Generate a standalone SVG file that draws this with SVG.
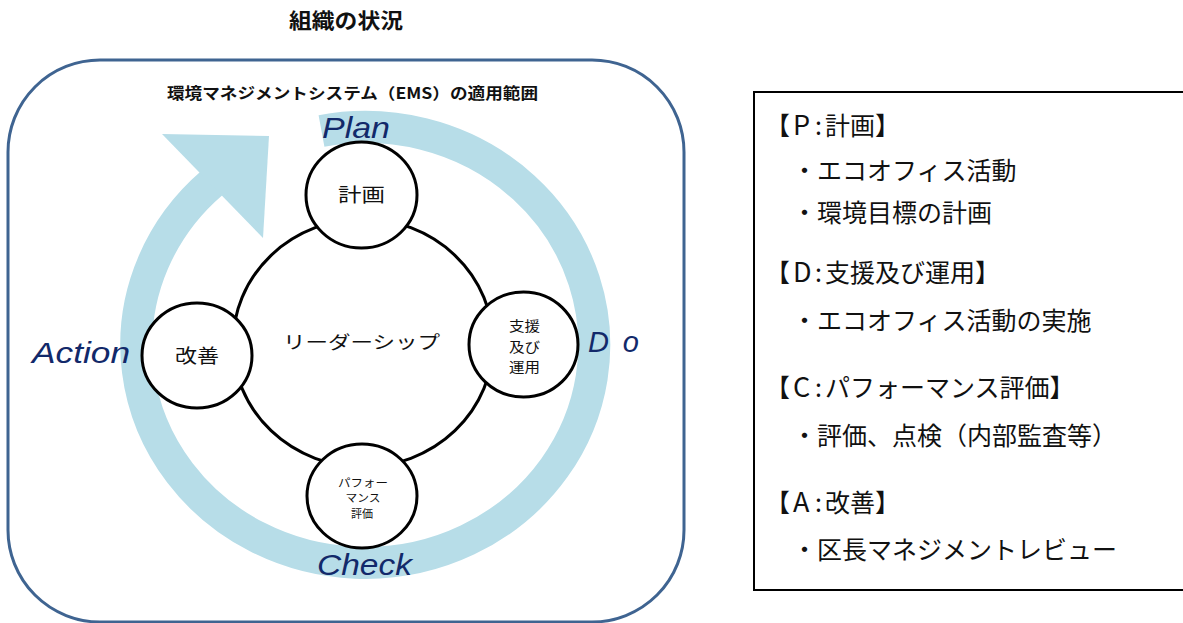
<svg xmlns="http://www.w3.org/2000/svg" width="1183" height="623" viewBox="0 0 1183 623">
<style>
.jp{font-family:"Noto Sans CJK JP","Noto Sans CJK SC",sans-serif;fill:#111}
.b{font-weight:bold}
.node{fill:#fff;stroke:#000;stroke-width:3}
.pdca{font-family:"Liberation Sans",Arial,sans-serif;font-style:italic;fill:#12296a;font-size:29px}
.panel{font-family:"Noto Sans CJK JP","Noto Sans CJK SC",sans-serif;font-size:25px;fill:#111}
.ltr{font-size:27px}
</style>
<rect width="1183" height="623" fill="#fff"/>
<g id="title">
<text class="jp b" x="346" y="28" font-size="21" text-anchor="middle" textLength="114" lengthAdjust="spacingAndGlyphs">組織の状況</text>
</g>
<g id="scope">
<rect x="8" y="60" width="676" height="562" rx="92" ry="92" fill="none" stroke="#3f6491" stroke-width="3"/>
<text class="jp b" x="352.5" y="99" font-size="15.5" text-anchor="middle" textLength="371" lengthAdjust="spacingAndGlyphs">環境マネジメントシステム（EMS）の適用範囲</text>
</g>
<g id="connectors">
<path d="M 321.5 130.9 A 229 218 0 1 1 211.9 183" fill="none" stroke="#b7dde8" stroke-width="32"/>
<polygon points="162,134 269,136 263,238" fill="#b7dde8"/>
</g>
<g id="leadership">
<ellipse class="node" cx="363" cy="343" rx="130" ry="124"/>
<text class="jp" x="361.5" y="349" font-size="18" text-anchor="middle" textLength="157" lengthAdjust="spacingAndGlyphs">リーダーシップ</text>
</g>
<g id="plan">
<ellipse class="node" cx="361.5" cy="195" rx="55.5" ry="53"/>
<text class="jp" x="361.5" y="202" font-size="19" text-anchor="middle" textLength="47" lengthAdjust="spacingAndGlyphs">計画</text>
</g>
<g id="action">
<ellipse class="node" cx="197" cy="355.5" rx="55" ry="52.5"/>
<text class="jp" x="197" y="363" font-size="19" text-anchor="middle" textLength="44" lengthAdjust="spacingAndGlyphs">改善</text>
</g>
<g id="do">
<ellipse class="node" cx="523.5" cy="344.5" rx="54.5" ry="52.5"/>
<text class="jp" x="524.5" y="331" font-size="13.5" text-anchor="middle" textLength="31" lengthAdjust="spacingAndGlyphs">支援</text>
<text class="jp" x="524.5" y="352" font-size="13.5" text-anchor="middle" textLength="31" lengthAdjust="spacingAndGlyphs">及び</text>
<text class="jp" x="524.5" y="372" font-size="13.5" text-anchor="middle" textLength="31" lengthAdjust="spacingAndGlyphs">運用</text>
</g>
<g id="check">
<ellipse class="node" cx="362" cy="496" rx="55" ry="52"/>
<text class="jp" x="363" y="487" font-size="11" text-anchor="middle" textLength="50" lengthAdjust="spacingAndGlyphs">パフォー</text>
<text class="jp" x="363" y="502" font-size="11" text-anchor="middle" textLength="35" lengthAdjust="spacingAndGlyphs">マンス</text>
<text class="jp" x="362" y="518" font-size="11" text-anchor="middle" textLength="22" lengthAdjust="spacingAndGlyphs">評価</text>
</g>
<g id="pdca-labels">
<text class="pdca" x="322" y="138" textLength="68" lengthAdjust="spacingAndGlyphs">Plan</text>
<text class="pdca" x="588" y="352" textLength="51" lengthAdjust="spacing">Do</text>
<text class="pdca" x="32" y="363" textLength="98" lengthAdjust="spacingAndGlyphs">Action</text>
<text class="pdca" x="317" y="575" textLength="95" lengthAdjust="spacingAndGlyphs">Check</text>
</g>
<g id="legend">
<rect x="754" y="92" width="440" height="498" fill="none" stroke="#000" stroke-width="2"/>
<text class="panel" y="135"><tspan x="765">【</tspan><tspan class="ltr" x="793">P</tspan><tspan x="815">:</tspan><tspan x="825">計画】</tspan></text>
<text class="panel" x="792" y="180">・エコオフィス活動</text>
<text class="panel" x="792" y="222">・環境目標の計画</text>
<text class="panel" y="282"><tspan x="765">【</tspan><tspan class="ltr" x="793">D</tspan><tspan x="815">:</tspan><tspan x="825">支援及び運用】</tspan></text>
<text class="panel" x="792" y="330">・エコオフィス活動の実施</text>
<text class="panel" y="397"><tspan x="765">【</tspan><tspan class="ltr" x="793">C</tspan><tspan x="815">:</tspan><tspan x="825">パフォーマンス評価】</tspan></text>
<text class="panel" x="792" y="445">・評価、点検（内部監査等）</text>
<text class="panel" y="512"><tspan x="765">【</tspan><tspan class="ltr" x="793">A</tspan><tspan x="815">:</tspan><tspan x="825">改善】</tspan></text>
<text class="panel" x="792" y="559">・区長マネジメントレビュー</text>
</g>
</svg>
